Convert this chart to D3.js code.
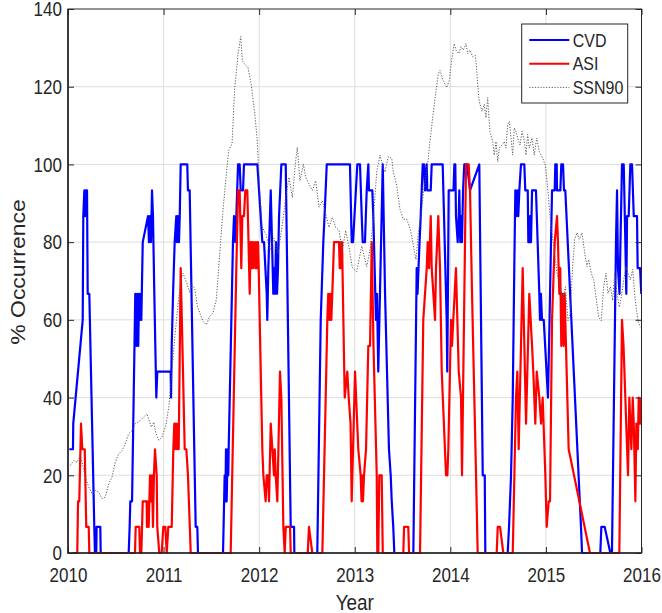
<!DOCTYPE html>
<html>
<head>
<meta charset="utf-8">
<script src="https://cdn.jsdelivr.net/npm/d3@7/dist/d3.min.js"></script>
<style>
  body { margin: 0; background: #fff; }
  text { font-family: "Liberation Sans", Arial, sans-serif; fill: #262626; }
</style>
</head>
<body>
<svg id="chart" width="662" height="613"></svg>
<script>
// ── Data: [decimal year, % occurrence] ─────────────────────────────
const cvd = [
  [2010.014, 26.7], [2010.052, 26.7], [2010.055, 33.3], [2010.154, 60], [2010.160, 86.7],
  [2010.171, 93.3], [2010.178, 86.7], [2010.188, 93.3], [2010.199, 93.3], [2010.206, 66.7],
  [2010.223, 66.7], [2010.275, 6.7], [2010.282, 0], [2010.296, 0], [2010.299, 6.7],
  [2010.338, 6.7], [2010.342, 0], [2010.635, 0], [2010.645, 6.7], [2010.652, 13.3],
  [2010.670, 13.3], [2010.704, 66.7], [2010.717, 53.3], [2010.725, 66.7], [2010.735, 53.3],
  [2010.743, 66.7], [2010.753, 60], [2010.764, 66.7], [2010.767, 60], [2010.782, 80],
  [2010.837, 86.7], [2010.847, 80], [2010.858, 86.7], [2010.868, 80], [2010.879, 93.3],
  [2010.889, 86.7], [2010.903, 66.7], [2010.924, 40], [2010.934, 46.7], [2011.074, 46.7],
  [2011.078, 40], [2011.085, 53.3], [2011.099, 66.7], [2011.116, 80], [2011.133, 86.7],
  [2011.140, 80], [2011.151, 86.7], [2011.161, 80], [2011.169, 86.7], [2011.179, 100],
  [2011.248, 100], [2011.255, 93.3], [2011.273, 93.3], [2011.326, 20], [2011.336, 6.7],
  [2011.353, 6.7], [2011.360, 0], [2011.622, 0], [2011.639, 20], [2011.646, 13.3],
  [2011.653, 26.7], [2011.660, 13.3], [2011.671, 26.7], [2011.677, 20], [2011.681, 26.7],
  [2011.726, 80], [2011.737, 86.7], [2011.750, 80], [2011.761, 86.7], [2011.779, 100],
  [2011.796, 100], [2011.807, 93.3], [2011.831, 93.3], [2011.841, 100], [2011.981, 100],
  [2012.016, 86.7], [2012.033, 80], [2012.051, 80], [2012.079, 66.7], [2012.085, 60],
  [2012.096, 73.3], [2012.121, 93.3], [2012.148, 66.7], [2012.158, 73.3], [2012.166, 66.7],
  [2012.176, 80], [2012.187, 66.7], [2012.197, 73.3], [2012.208, 86.7], [2012.232, 100],
  [2012.278, 100], [2012.330, 6.7], [2012.365, 6.7], [2012.368, 0], [2012.608, 0],
  [2012.612, 6.7], [2012.644, 60], [2012.671, 80], [2012.684, 86.7], [2012.707, 100],
  [2012.950, 100], [2012.968, 80], [2012.982, 80], [2013.027, 100], [2013.055, 100],
  [2013.073, 86.7], [2013.083, 80], [2013.107, 80], [2013.125, 93.3], [2013.142, 100],
  [2013.149, 93.3], [2013.184, 93.3], [2013.194, 86.7], [2013.222, 60], [2013.233, 66.7],
  [2013.246, 46.7], [2013.293, 100], [2013.317, 66.7], [2013.358, 26.7], [2013.376, 20],
  [2013.387, 13.3], [2013.403, 6.7], [2013.414, 0], [2013.613, 0], [2013.648, 73.3],
  [2013.657, 66.7], [2013.667, 73.3], [2013.678, 80], [2013.690, 86.7], [2013.711, 100],
  [2013.725, 100], [2013.735, 93.3], [2013.753, 100], [2013.759, 93.3], [2013.795, 93.3],
  [2013.805, 100], [2013.920, 100], [2013.962, 60], [2013.968, 46.7], [2013.983, 93.3],
  [2014.033, 93.3], [2014.042, 100], [2014.052, 100], [2014.059, 86.7], [2014.077, 80],
  [2014.088, 86.7], [2014.094, 93.3], [2014.104, 80], [2014.112, 86.7], [2014.122, 80],
  [2014.133, 93.3], [2014.146, 100], [2014.175, 100], [2014.206, 93.3], [2014.303, 100],
  [2014.339, 20], [2014.360, 20], [2014.366, 0], [2014.600, 0], [2014.614, 6.7],
  [2014.635, 20], [2014.653, 40], [2014.669, 73.3], [2014.680, 93.3], [2014.690, 86.7],
  [2014.701, 93.3], [2014.711, 86.7], [2014.722, 93.3], [2014.739, 100], [2014.774, 100],
  [2014.784, 93.3], [2014.810, 93.3], [2014.816, 80], [2014.823, 86.7], [2014.830, 80],
  [2014.837, 86.7], [2014.844, 80], [2014.855, 93.3], [2014.896, 93.3], [2014.931, 66.7],
  [2014.938, 60], [2014.948, 66.7], [2014.959, 60], [2014.977, 60], [2015.022, 40],
  [2015.064, 93.3], [2015.092, 93.3], [2015.098, 100], [2015.113, 100], [2015.116, 93.3],
  [2015.151, 93.3], [2015.161, 100], [2015.179, 100], [2015.189, 93.3], [2015.203, 93.3],
  [2015.367, 6.7], [2015.378, 0], [2015.569, 0], [2015.580, 6.7], [2015.615, 6.7],
  [2015.674, 0], [2015.691, 0], [2015.733, 80], [2015.744, 93.3], [2015.754, 73.3],
  [2015.770, 66.7], [2015.780, 80], [2015.796, 100], [2015.814, 100], [2015.831, 80],
  [2015.841, 66.7], [2015.849, 86.7], [2015.866, 86.7], [2015.883, 100], [2015.901, 100],
  [2015.919, 86.7], [2015.953, 86.7], [2015.960, 73.3], [2015.985, 73.3], [2015.998, 66.7]
];

const asi = [
  [2010.053, 0], [2010.097, 0], [2010.105, 13.3], [2010.118, 13.3], [2010.136, 33.3],
  [2010.150, 26.7], [2010.175, 26.7], [2010.191, 6.7], [2010.217, 6.7], [2010.223, 0],
  [2010.701, 0], [2010.708, 6.7], [2010.746, 6.7], [2010.753, 0], [2010.767, 0],
  [2010.782, 13.3], [2010.823, 13.3], [2010.826, 6.7], [2010.834, 13.3], [2010.844, 6.7],
  [2010.858, 20], [2010.868, 13.3], [2010.879, 20], [2010.889, 6.7], [2010.899, 20],
  [2010.910, 26.7], [2010.928, 20], [2010.934, 6.7], [2010.955, 0], [2010.980, 0],
  [2010.997, 6.7], [2011.018, 6.7], [2011.033, 0], [2011.049, 6.7], [2011.085, 6.7],
  [2011.102, 26.7], [2011.112, 33.3], [2011.119, 26.7], [2011.130, 33.3], [2011.140, 26.7],
  [2011.151, 33.3], [2011.158, 26.7], [2011.179, 73.3], [2011.185, 66.7], [2011.203, 46.7],
  [2011.221, 26.7], [2011.238, 26.7], [2011.255, 20], [2011.284, 0], [2011.702, 0],
  [2011.761, 73.3], [2011.779, 93.3], [2011.796, 93.3], [2011.813, 73.3], [2011.824, 86.7],
  [2011.841, 86.7], [2011.855, 93.3], [2011.876, 93.3], [2011.901, 66.7], [2011.911, 80],
  [2011.919, 73.3], [2011.928, 80], [2011.935, 73.3], [2011.946, 80], [2011.960, 73.3],
  [2011.967, 80], [2011.977, 73.3], [2011.988, 80], [2011.995, 73.3], [2012.033, 26.7],
  [2012.044, 20], [2012.068, 13.3], [2012.079, 20], [2012.093, 20], [2012.103, 13.3],
  [2012.121, 33.3], [2012.138, 26.7], [2012.155, 20], [2012.163, 26.7], [2012.173, 20],
  [2012.190, 13.3], [2012.218, 46.7], [2012.232, 40], [2012.253, 6.7], [2012.267, 0],
  [2012.278, 6.7], [2012.323, 6.7], [2012.330, 0], [2012.508, 0], [2012.521, 6.7],
  [2012.556, 0], [2012.661, 0], [2012.696, 40], [2012.713, 60], [2012.723, 66.7],
  [2012.734, 60], [2012.744, 66.7], [2012.755, 60], [2012.765, 66.7], [2012.783, 80],
  [2012.835, 80], [2012.843, 73.3], [2012.849, 80], [2012.856, 73.3], [2012.867, 80],
  [2012.895, 40], [2012.922, 46.7], [2012.937, 40], [2012.956, 33.3], [2012.968, 13.3],
  [2013.003, 46.7], [2013.037, 26.7], [2013.062, 20], [2013.071, 13.3], [2013.079, 20],
  [2013.086, 13.3], [2013.097, 20], [2013.118, 26.7], [2013.142, 53.3], [2013.160, 53.3],
  [2013.178, 80], [2013.196, 53.3], [2013.230, 20], [2013.236, 0], [2013.246, 0],
  [2013.257, 20], [2013.282, 20], [2013.293, 0], [2013.508, 0], [2013.516, 6.7],
  [2013.560, 6.7], [2013.568, 0], [2013.683, 0], [2013.717, 60], [2013.735, 66.7],
  [2013.753, 73.3], [2013.763, 80], [2013.777, 73.3], [2013.795, 86.7], [2013.805, 73.3],
  [2013.840, 60], [2013.850, 73.3], [2013.874, 86.7], [2013.892, 73.3], [2013.910, 46.7],
  [2013.955, 20], [2013.969, 20], [2013.979, 26.7], [2014.007, 60], [2014.017, 53.3],
  [2014.031, 60], [2014.059, 73.3], [2014.088, 46.7], [2014.112, 40], [2014.122, 20],
  [2014.164, 100], [2014.192, 100], [2014.206, 93.3], [2014.227, 66.7], [2014.269, 20],
  [2014.286, 0], [2014.485, 0], [2014.496, 6.7], [2014.520, 6.7], [2014.554, 0],
  [2014.653, 0], [2014.687, 40], [2014.701, 46.7], [2014.715, 26.7], [2014.757, 73.3],
  [2014.792, 33.3], [2014.826, 66.7], [2014.855, 53.3], [2014.868, 46.7], [2014.889, 33.3],
  [2014.904, 46.7], [2014.931, 40], [2014.949, 33.3], [2014.966, 40], [2014.994, 20],
  [2015.008, 6.7], [2015.029, 13.3], [2015.043, 13.3], [2015.064, 60], [2015.092, 80],
  [2015.116, 86.7], [2015.126, 80], [2015.140, 66.7], [2015.150, 73.3], [2015.161, 53.3],
  [2015.175, 66.7], [2015.186, 53.3], [2015.196, 66.7], [2015.210, 53.3], [2015.238, 26.7],
  [2015.461, 0], [2015.768, 0], [2015.796, 60], [2015.812, 53.3], [2015.859, 20],
  [2015.873, 40], [2015.883, 33.3], [2015.894, 26.7], [2015.908, 40], [2015.919, 33.3],
  [2015.936, 13.3], [2015.946, 33.3], [2015.961, 26.7], [2015.971, 40], [2015.985, 33.3],
  [2015.998, 40]
];

const ssn90 = [
  [2010.024, 22.5], [2010.060, 23.8], [2010.094, 23.3], [2010.129, 25.1], [2010.146, 23.5],
  [2010.181, 19.5], [2010.217, 17], [2010.251, 15.3], [2010.286, 16.1], [2010.321, 15.7],
  [2010.356, 14], [2010.390, 14.4], [2010.426, 17.8], [2010.460, 19.5], [2010.495, 23.4],
  [2010.530, 25.5], [2010.565, 26.4], [2010.599, 28.1], [2010.635, 30.7], [2010.670, 31.5],
  [2010.704, 33.3], [2010.756, 34.1], [2010.792, 35], [2010.826, 35.8], [2010.851, 34],
  [2010.871, 32.4], [2010.897, 33.7], [2010.921, 30.7], [2010.949, 29], [2010.983, 29.8],
  [2011.025, 33], [2011.057, 38], [2011.088, 47], [2011.119, 56], [2011.151, 64],
  [2011.179, 70], [2011.203, 72], [2011.238, 69.8], [2011.273, 67.1], [2011.297, 69],
  [2011.326, 68], [2011.353, 63.6], [2011.378, 61.8], [2011.412, 59.6], [2011.447, 58.7],
  [2011.482, 60.9], [2011.517, 61.8], [2011.552, 65.3], [2011.587, 76.9], [2011.622, 88.4],
  [2011.656, 97.3], [2011.681, 103.6], [2011.716, 105.3], [2011.744, 119.6], [2011.779, 128.4],
  [2011.807, 132.9], [2011.824, 126.7], [2011.849, 125.8], [2011.883, 124.9], [2011.918, 120.4],
  [2011.953, 113.3], [2011.977, 107.1], [2012.006, 93], [2012.030, 84], [2012.071, 82],
  [2012.113, 78], [2012.155, 81], [2012.197, 77], [2012.239, 84], [2012.281, 92],
  [2012.312, 96.7], [2012.347, 91.5], [2012.382, 101], [2012.399, 104.4], [2012.427, 95.8],
  [2012.462, 100.1], [2012.487, 96.7], [2012.521, 95], [2012.556, 93.3], [2012.591, 95.8],
  [2012.626, 89], [2012.661, 90.7], [2012.696, 87.3], [2012.731, 83.8], [2012.765, 86.4],
  [2012.801, 83.8], [2012.835, 83], [2012.870, 77.8], [2012.905, 83], [2012.940, 78.7],
  [2012.974, 73.5], [2013.020, 72.4], [2013.073, 79], [2013.125, 73.7], [2013.160, 78],
  [2013.191, 85], [2013.230, 98], [2013.264, 102.4], [2013.292, 99.8], [2013.316, 98],
  [2013.351, 102], [2013.387, 101.6], [2013.403, 98.1], [2013.439, 94.6], [2013.473, 88.5],
  [2013.508, 85.9], [2013.543, 85.9], [2013.571, 84.2], [2013.596, 81.6], [2013.620, 78.1],
  [2013.641, 75.5], [2013.665, 82.4], [2013.700, 88.5], [2013.724, 93.7], [2013.753, 98.1],
  [2013.769, 101.6], [2013.787, 105.9], [2013.815, 112], [2013.850, 119], [2013.874, 123.3],
  [2013.892, 124.2], [2013.926, 121.6], [2013.962, 119.8], [2013.989, 121.6], [2014.014, 127],
  [2014.041, 131.1], [2014.059, 129.4], [2014.088, 128.5], [2014.112, 130.3], [2014.136, 129.4],
  [2014.164, 131.1], [2014.182, 128.5], [2014.206, 129.4], [2014.234, 127.7], [2014.261, 128.1],
  [2014.276, 124.2], [2014.297, 117.2], [2014.310, 115.5], [2014.331, 113.7], [2014.355, 115.5],
  [2014.373, 112], [2014.391, 117.2], [2014.401, 113], [2014.415, 108.5], [2014.443, 105.9],
  [2014.460, 102.4], [2014.478, 105.9], [2014.496, 100.7], [2014.512, 104.2], [2014.541, 105],
  [2014.565, 105.9], [2014.582, 104.2], [2014.600, 110.3], [2014.617, 111.1], [2014.635, 106.8],
  [2014.652, 102.4], [2014.669, 109.4], [2014.687, 108.5], [2014.705, 106.8], [2014.729, 105],
  [2014.750, 108.5], [2014.774, 105.9], [2014.792, 102.4], [2014.809, 107.7], [2014.826, 104.2],
  [2014.854, 106.8], [2014.878, 102.4], [2014.904, 106.8], [2014.931, 103.3], [2014.966, 101.6],
  [2014.994, 99.8], [2015.022, 92.9], [2015.046, 85.9], [2015.081, 79], [2015.116, 72],
  [2015.150, 68.5], [2015.175, 65], [2015.203, 68.5], [2015.231, 59.8], [2015.255, 61.6],
  [2015.280, 73.7], [2015.301, 80.7], [2015.325, 82.4], [2015.349, 80.7], [2015.377, 82.4],
  [2015.406, 77.2], [2015.430, 73.7], [2015.447, 75.5], [2015.475, 72], [2015.500, 70.3],
  [2015.524, 65.9], [2015.552, 60.7], [2015.579, 59.8], [2015.604, 68.5], [2015.629, 72],
  [2015.649, 66.8], [2015.674, 68.5], [2015.699, 65], [2015.720, 72], [2015.744, 66.8],
  [2015.768, 63.3], [2015.789, 65.9], [2015.814, 70.3], [2015.838, 73.7], [2015.859, 72],
  [2015.883, 70.3], [2015.908, 73], [2015.935, 65], [2015.963, 59.8], [2015.987, 58.1]
];

const xTicks = [2010, 2011, 2012, 2013, 2014, 2015, 2016];
const yTicks = [0, 20, 40, 60, 80, 100, 120, 140];
const legendNames = ['CVD', 'ASI', 'SSN90'];

// ── Layout ─────────────────────────────────────
const plot = { left: 68, right: 641.5, top: 9, bottom: 553 };
const ink = '#262626';
const styles = {
  CVD:   { color: '#0000ff', width: 2.2, dash: null },
  ASI:   { color: '#ff0000', width: 2.2, dash: null },
  SSN90: { color: '#5a5a5a', width: 1, dash: '1.2,1.6' }
};

const svg = d3.select('#chart');
const x = d3.scaleLinear().domain([2010, 2016]).range([plot.left, plot.right]);
const y = d3.scaleLinear().domain([0, 140]).range([plot.bottom, plot.top]);

// Grid
const grid = svg.append('g').attr('stroke', '#dedede').attr('stroke-width', 1);
grid.selectAll('.gx').data(xTicks.slice(1, -1)).enter().append('line')
  .attr('x1', d => x(d)).attr('x2', d => x(d))
  .attr('y1', plot.top).attr('y2', plot.bottom);
grid.selectAll('.gy').data(yTicks.slice(1, -1)).enter().append('line')
  .attr('x1', plot.left).attr('x2', plot.right)
  .attr('y1', d => y(d)).attr('y2', d => y(d));

// Series
const line = d3.line().x(d => x(d[0])).y(d => y(d[1]));
const series = [['CVD', cvd], ['ASI', asi], ['SSN90', ssn90]];
const clip = svg.append('defs').append('clipPath').attr('id', 'clip')
  .append('rect').attr('x', plot.left).attr('y', plot.top)
  .attr('width', plot.right - plot.left).attr('height', plot.bottom - plot.top + 2);
const lines = svg.append('g').attr('clip-path', 'url(#clip)');
series.forEach(([name, data]) => {
  const s = styles[name];
  lines.append('path').datum(data)
    .attr('d', line)
    .attr('fill', 'none')
    .attr('stroke', s.color)
    .attr('stroke-width', s.width)
    .attr('stroke-linejoin', 'round')
    .attr('stroke-dasharray', s.dash);
});

// Axes (inward ticks, MATLAB-ish box)
const sx = 0.81; // glyph width squeeze seen in the figure
const xAxis = svg.append('g').attr('transform', `translate(0,${plot.bottom})`)
  .call(d3.axisBottom(x).tickValues(xTicks).tickFormat(d3.format('d')).tickSize(-6).tickPadding(14));
xAxis.selectAll('text').attr('font-size', 21).attr('transform', `scale(${sx},1)`);

const yAxis = svg.append('g').attr('transform', `translate(${plot.left},0)`)
  .call(d3.axisLeft(y).tickValues(yTicks).tickSize(-6));
yAxis.selectAll('text').attr('font-size', 21).attr('x', -7.6).attr('transform', `scale(${sx},1)`);

svg.append('g').attr('transform', `translate(0,${plot.top})`)
  .call(d3.axisTop(x).tickValues(xTicks).tickFormat('').tickSize(-6));
svg.append('g').attr('transform', `translate(${plot.right},0)`)
  .call(d3.axisRight(y).tickValues(yTicks).tickFormat('').tickSize(-6));

svg.selectAll('.domain').remove();
svg.selectAll('.tick line').attr('stroke', ink).attr('stroke-width', 1);
svg.selectAll('.tick text').attr('fill', ink).style('font-family', '"Liberation Sans", Arial, sans-serif');

svg.append('rect')
  .attr('x', plot.left).attr('y', plot.top)
  .attr('width', plot.right - plot.left).attr('height', plot.bottom - plot.top)
  .attr('fill', 'none').attr('stroke', ink).attr('stroke-width', 1);
svg.append('path')
  .attr('d', `M${plot.left},${plot.top}V${plot.bottom}H${plot.right}`)
  .attr('fill', 'none').attr('stroke', ink).attr('stroke-width', 1.6);

// Axis labels
svg.append('text')
  .attr('transform', `translate(${(plot.left + plot.right) / 2},610) scale(0.86,1)`)
  .attr('text-anchor', 'middle').attr('font-size', 22).text('Year');
svg.append('text')
  .attr('transform', `translate(25,272) rotate(-90) scale(1,0.9)`)
  .attr('text-anchor', 'middle').attr('font-size', 23).text('% Occurrence');

// Legend
const leg = svg.append('g');
leg.append('rect').attr('x', 521.7).attr('y', 24).attr('width', 106).attr('height', 79)
  .attr('fill', '#fff').attr('stroke', ink).attr('stroke-width', 1);
legendNames.forEach((name, i) => {
  const s = styles[name];
  const cy = 40 + i * 23.7;
  leg.append('line').attr('x1', 529.3).attr('x2', 569.3).attr('y1', cy).attr('y2', cy)
    .attr('stroke', s.color).attr('stroke-width', s.width === 1 ? 1 : 2)
    .attr('stroke-dasharray', s.dash);
  leg.append('text')
    .attr('transform', `translate(572.7,${cy + 6.6}) scale(0.86,1)`)
    .attr('font-size', 18.6).text(name);
});
</script>
</body>
</html>
